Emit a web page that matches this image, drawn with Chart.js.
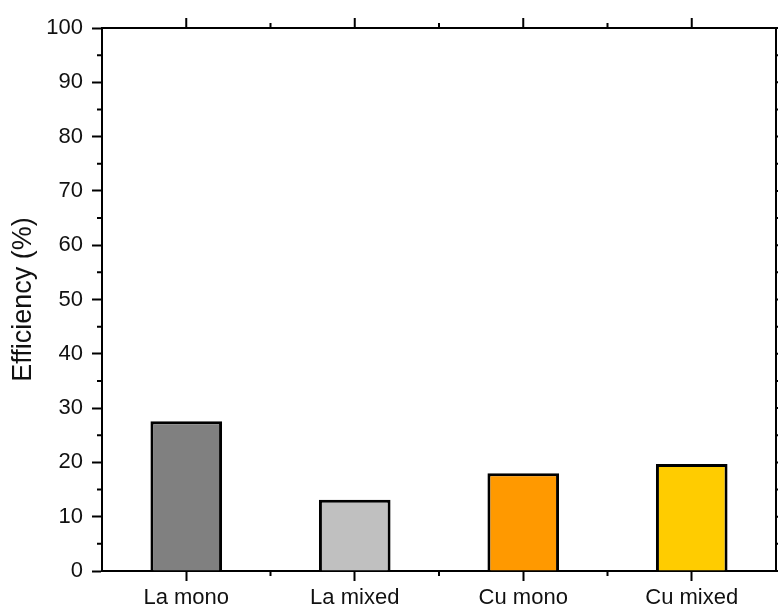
<!DOCTYPE html>
<html>
<head>
<meta charset="utf-8">
<script src="https://cdn.jsdelivr.net/npm/chart.js@4.4.1/dist/chart.umd.min.js"></script>
<style>
  html, body { margin: 0; padding: 0; background: #fff; }
  #wrap { width: 778px; height: 608px; }
</style>
</head>
<body>
<div id="wrap"><canvas id="effChart"></canvas></div>
<script>
// Categories and measured efficiency per sample
const categories = ['La mono', 'La mixed', 'Cu mono', 'Cu mixed'];
const efficiency = [27.6, 13.1, 18.0, 19.7];
const barColors = ['#808080', '#C0C0C0', '#FF9900', '#FFCC00'];

// y axis range
const yMin = 0;
const yMax = 100;
const yStep = 10;

const FONT = "'Liberation Sans', Arial, sans-serif";

// Origin style frame: top/right axis lines plus minor ticks everywhere
const frameTicks = {
    id: 'frameTicks',
    afterDraw(chart) {
        const ctx = chart.ctx;
        const a = chart.chartArea;
        const xs = chart.scales.x;
        const ys = chart.scales.y;
        ctx.save();
        ctx.strokeStyle = '#000';
        ctx.lineWidth = 2;
        ctx.beginPath();
        // top and right lines
        ctx.moveTo(a.left, a.top); ctx.lineTo(a.right, a.top);
        ctx.moveTo(a.right, a.top); ctx.lineTo(a.right, a.bottom);

        // y ticks: major on the right, minor on both sides
        for (let v = yMin; v <= yMax; v += yStep / 2) {
            const y = ys.getPixelForValue(v);
            const major = (v % yStep) === 0;
            const len = major ? 10 : 5;
            if (!major) {
                ctx.moveTo(a.left, y); ctx.lineTo(a.left - len, y);
            }
            ctx.moveTo(a.right, y); ctx.lineTo(a.right + len, y);
        }

        // x ticks: majors at bar centres on top, minors at boundaries top and bottom
        for (let i = 0; i < categories.length; i++) {
            const x = xs.getPixelForValue(i);
            ctx.moveTo(x, a.top); ctx.lineTo(x, a.top - 10);
            if (i > 0) {
                const xb = (xs.getPixelForValue(i - 1) + x) / 2;
                ctx.moveTo(xb, a.top); ctx.lineTo(xb, a.top - 5);
                ctx.moveTo(xb, a.bottom); ctx.lineTo(xb, a.bottom + 5);
            }
        }
        ctx.stroke();
        ctx.restore();
    }
};

new Chart(document.getElementById('effChart'), {
    type: 'bar',
    data: {
        labels: categories,
        datasets: [{
            data: efficiency,
            backgroundColor: barColors,
            borderColor: '#000',
            borderWidth: 3,
            categoryPercentage: 1.0,
            barPercentage: 0.425
        }]
    },
    options: {
        responsive: true,
        maintainAspectRatio: false,
        animation: false,
        layout: { padding: { top: 28, right: 2, left: 0, bottom: 0 } },
        plugins: {
            legend: { display: false },
            tooltip: { enabled: false }
        },
        scales: {
            x: {
                offset: true,
                grid: {
                    offset: false,
                    drawOnChartArea: false,
                    drawTicks: true,
                    tickLength: 10,
                    tickWidth: 2,
                    tickColor: '#000'
                },
                border: { color: '#000', width: 2 },
                ticks: {
                    color: '#111',
                    padding: 4,
                    font: { family: FONT, size: 22 }
                },
                afterFit(scale) { scale.height = 37; }
            },
            y: {
                min: yMin,
                max: yMax,
                grid: {
                    drawOnChartArea: false,
                    drawTicks: true,
                    tickLength: 10,
                    tickWidth: 2,
                    tickColor: '#000'
                },
                border: { color: '#000', width: 2 },
                ticks: {
                    stepSize: yStep,
                    color: '#111',
                    padding: 9,
                    font: { family: FONT, size: 22 }
                },
                title: {
                    display: true,
                    text: 'Efficiency (%)',
                    color: '#111',
                    font: { family: FONT, size: 27 },
                    padding: { top: 7, bottom: 0 }
                },
                afterFit(scale) { scale.width = 102; }
            }
        }
    },
    plugins: [frameTicks]
});
</script>
</body>
</html>
